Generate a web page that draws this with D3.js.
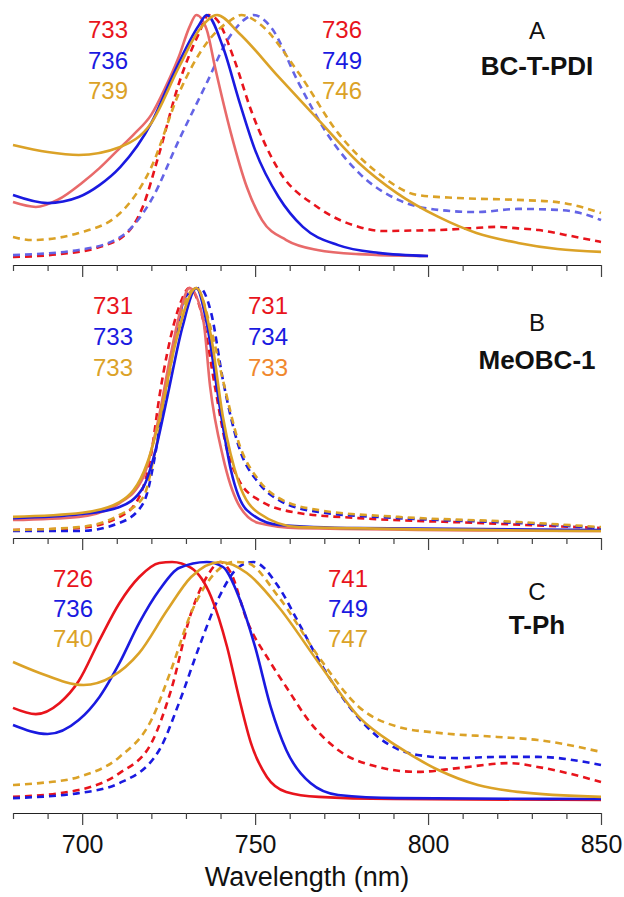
<!DOCTYPE html>
<html>
<head>
<meta charset="utf-8">
<script src="https://cdn.jsdelivr.net/npm/d3@7"></script>
<style>
  html, body { margin: 0; padding: 0; background: #fff; }
  svg { display: block; }
  text { font-family: "Liberation Sans", Arial, sans-serif; }
</style>
</head>
<body>
<div id="chart"></div>
<script>
// ---------------- DATA ----------------
const xTicks = [680, 690, 700, 710, 720, 730, 740, 750, 760, 770, 780, 790, 800, 810, 820, 830, 840, 850];
const xTickLabels = [700, 750, 800, 850];
const panelLetters = ["A", "B", "C"];
const panelNames = ["BC-T-PDI", "MeOBC-1", "T-Ph"];
const absPeaks = [[733, 736, 739], [731, 733, 733], [726, 736, 740]];   // solid (left column)
const emPeaks  = [[736, 749, 746], [731, 734, 733], [741, 749, 747]];   // dashed (right column)

// Panel A  (normalized intensity)
const aRedSolid = [[680,0.23],[686.6,0.21],[693,0.24],[700,0.31],[705,0.37],[710,0.44],[715,0.51],[720,0.59],[724,0.70],[728,0.83],[731,0.95],[733,1.0],[736,0.94],[738.4,0.786],[743,0.514],[747.6,0.292],[752,0.156],[759,0.074],[768,0.033],[780,0.016],[800,0.008]];
const aBlueSolid = [[680,0.259],[690,0.226],[699,0.251],[705,0.30],[711,0.374],[720,0.556],[726,0.745],[733.8,0.959],[736,1.0],[740.7,0.868],[745.3,0.65],[750,0.444],[756.8,0.251],[763.8,0.128],[774,0.053],[785.6,0.021],[800,0.008]];
const aGoldSolid = [[680,0.465],[690,0.436],[699,0.424],[711,0.457],[720,0.556],[728,0.786],[733.8,0.938],[739,1.0],[745.3,0.926],[756.8,0.745],[768.3,0.568],[780,0.391],[791,0.267],[803,0.169],[814,0.103],[826,0.062],[837.4,0.037],[850,0.025]];
const aRedDash = [[680,0.004],[693.5,0.016],[705,0.045],[713,0.103],[717.5,0.21],[722.3,0.432],[728,0.72],[733.8,0.926],[736.5,1.0],[739,0.98],[744,0.815],[748.8,0.609],[756.8,0.362],[768,0.21],[780,0.128],[787,0.111],[795,0.113],[803,0.115],[812,0.122],[820,0.128],[826,0.122],[832,0.115],[839.7,0.095],[850,0.066]];
const aBlueDash = [[680,0.012],[699,0.033],[711,0.086],[720,0.239],[728,0.486],[736,0.72],[742,0.897],[747.6,0.988],[749.5,1.0],[754.5,0.951],[762.6,0.72],[770.7,0.514],[780,0.35],[791.4,0.239],[803,0.198],[814,0.189],[826,0.202],[837.4,0.198],[844,0.185],[850,0.156]];
const aGoldDash = [[680,0.086],[685.4,0.074],[699,0.103],[711,0.185],[720,0.374],[728,0.679],[736,0.885],[743,0.979],[746,1.0],[751,0.967],[762.6,0.761],[774,0.514],[785.5,0.35],[797,0.259],[808.6,0.247],[826,0.239],[837.4,0.23],[850,0.185]];

// Panel B
const bRedSolid = [[680,0.045],[699,0.058],[710.8,0.115],[717.7,0.222],[722,0.457],[725.7,0.733],[729,0.938],[731,1.0],[735,0.868],[737,0.593],[740.7,0.305],[745,0.115],[751,0.033],[762.6,0.012],[850,0.0]];
const bBlueSolid = [[680,0.053],[700,0.07],[710.8,0.099],[717.7,0.181],[721,0.321],[724.6,0.551],[729,0.84],[733,1.0],[736,0.856],[739.6,0.527],[743,0.251],[747.6,0.086],[756.8,0.025],[780,0.012],[850,0.004]];
const bGoldSolid = [[680,0.058],[700,0.075],[710.8,0.119],[718.8,0.28],[722.3,0.457],[727,0.774],[733,1.0],[737.3,0.798],[740.7,0.469],[745.3,0.198],[751,0.074],[762.6,0.016],[850,0.0]];
const bRedDash = [[680,0.004],[699,0.012],[710.8,0.058],[716.5,0.14],[720,0.321],[722.3,0.551],[724.6,0.733],[728,0.922],[731,1.0],[735,0.868],[738.4,0.593],[741.9,0.333],[745.3,0.21],[751,0.128],[762.6,0.074],[780,0.053],[814.4,0.033],[850,0.012]];
const bBlueDash = [[680,0.0],[699,0.0],[710.8,0.033],[717.7,0.115],[721,0.305],[723.4,0.527],[727,0.798],[729.8,0.963],[734,1.0],[737.3,0.897],[740.7,0.621],[745.3,0.346],[751,0.198],[756.8,0.128],[768.4,0.078],[791.4,0.053],[826,0.033],[850,0.012]];
const bGoldDash = [[680,0.004],[699,0.016],[710.8,0.066],[717.7,0.14],[721,0.321],[724.6,0.593],[728,0.868],[733,1.0],[737.3,0.827],[740.7,0.621],[745.3,0.362],[751,0.21],[756.8,0.136],[768.4,0.086],[791.4,0.058],[826,0.037],[850,0.016]];

// Panel C
const cRedSolid = [[680,0.387],[686.6,0.361],[693.5,0.408],[699,0.50],[705,0.672],[710.8,0.828],[716.5,0.937],[722.3,0.996],[726,1.0],[731.5,0.975],[737.3,0.853],[741.9,0.643],[745.3,0.433],[748.8,0.239],[753.4,0.097],[759,0.034],[768.4,0.013],[790,0.004],[850,0.0]];
const cBlueSolid = [[680,0.315],[690,0.277],[699,0.336],[705,0.433],[710.8,0.576],[716.5,0.744],[722.3,0.882],[728,0.975],[736,1.0],[740.7,0.979],[745.3,0.853],[750,0.643],[754.5,0.391],[759,0.21],[766,0.071],[774,0.021],[791,0.008],[850,0.004]];
const cGoldSolid = [[680,0.58],[687.7,0.534],[700.4,0.483],[708.5,0.517],[716.5,0.618],[724.6,0.798],[731.5,0.937],[740,1.0],[747.6,0.954],[756.8,0.811],[768.4,0.576],[780,0.349],[791.4,0.223],[803,0.126],[814.4,0.063],[826,0.034],[850,0.013]];
const cRedDash = [[680,0.013],[699,0.042],[710.8,0.113],[720,0.239],[725.7,0.462],[731.5,0.786],[736,0.937],[740,1.0],[743,0.954],[747.6,0.756],[754.5,0.576],[759,0.475],[766,0.324],[774,0.21],[785.5,0.139],[797,0.118],[808.6,0.134],[823.6,0.155],[831.7,0.139],[850,0.076]];
const cBlueDash = [[680,0.008],[699,0.029],[710.8,0.071],[722.3,0.21],[728,0.408],[733.8,0.643],[739.6,0.853],[745.3,0.979],[749.5,1.0],[756.8,0.895],[762.6,0.744],[768.4,0.588],[776.4,0.408],[785.5,0.265],[797,0.189],[808.6,0.176],[820,0.181],[831.7,0.181],[850,0.147]];
const cGoldDash = [[680,0.063],[687.7,0.071],[699,0.097],[710.8,0.181],[720,0.336],[725.7,0.546],[731.5,0.786],[738.4,0.954],[744,1.0],[747.6,0.996],[756.8,0.853],[768.4,0.601],[780,0.391],[791.4,0.307],[803,0.282],[820,0.265],[831.7,0.252],[850,0.202]];

// ---------------- CHART ----------------
const W = 624, H = 897;
const svg = d3.select("#chart").append("svg").attr("width", W).attr("height", H);

const x = d3.scaleLinear().domain([680, 850]).range([13, 601]);

const RED = "#e8141c", BLUE = "#1a1ae0", GOLD = "#dba227";
const panels = [
  { axisY: 265, yr: [258, 15], labelY: [38, 69, 99], leftX: 108, rightX: 342, letterY: 39, nameY: 75,
    series: [
      { d: aRedSolid, c: "#e86a6a", dash: null },
      { d: aBlueSolid, c: BLUE, dash: null },
      { d: aGoldSolid, c: GOLD, dash: null },
      { d: aRedDash, c: RED, dash: "7,5" },
      { d: aBlueDash, c: "#6464e6", dash: "7,5" },
      { d: aGoldDash, c: GOLD, dash: "7,5" }],
    textColors: [[RED, BLUE, GOLD], [RED, BLUE, GOLD]] },
  { axisY: 538, yr: [531, 288], labelY: [314, 345, 376], leftX: 113, rightX: 268, letterY: 331, nameY: 369,
    series: [
      { d: bRedSolid, c: "#e86a6a", dash: null },
      { d: bBlueSolid, c: BLUE, dash: null },
      { d: bGoldSolid, c: GOLD, dash: null },
      { d: bRedDash, c: RED, dash: "7,5" },
      { d: bBlueDash, c: BLUE, dash: "7,5" },
      { d: bGoldDash, c: GOLD, dash: "7,5" }],
    textColors: [[RED, BLUE, GOLD], [RED, BLUE, "#f0882e"]] },
  { axisY: 813, yr: [800, 562], labelY: [587, 617, 647], leftX: 73, rightX: 348, letterY: 600, nameY: 634,
    series: [
      { d: cRedSolid, c: RED, dash: null },
      { d: cBlueSolid, c: BLUE, dash: null },
      { d: cGoldSolid, c: GOLD, dash: null },
      { d: cRedDash, c: RED, dash: "7,5" },
      { d: cBlueDash, c: BLUE, dash: "7,5" },
      { d: cGoldDash, c: GOLD, dash: "7,5" }],
    textColors: [[RED, BLUE, GOLD], [RED, BLUE, GOLD]] }
];

panels.forEach((p, i) => {
  const y = d3.scaleLinear().domain([0, 1]).range(p.yr);
  const line = d3.line().x(d => x(d[0])).y(d => y(d[1])).curve(d3.curveMonotoneX);
  const g = svg.append("g");

  // dashed first, then solid
  const order = [3, 4, 5, 0, 1, 2];
  order.forEach(k => {
    const s = p.series[k];
    g.append("path").datum(s.d)
      .attr("d", line)
      .attr("fill", "none")
      .attr("stroke", s.c)
      .attr("stroke-width", 2.6)
      .attr("stroke-dasharray", s.dash)
      .attr("stroke-linejoin", "round");
  });

  // x axis
  const axis = d3.axisBottom(x)
    .tickValues(xTicks)
    .tickSize(6)
    .tickSizeOuter(0)
    .tickFormat(d => (i === 2 && xTickLabels.includes(d)) ? d : "");
  const ag = svg.append("g").attr("transform", `translate(0,${p.axisY})`).call(axis);
  ag.select(".domain").attr("stroke", "#222").attr("stroke-width", 1.2);
  ag.selectAll(".tick line")
    .attr("stroke", "#444").attr("stroke-width", 1.2)
    .attr("y2", d => (d % 50 === 0) ? 12 : 6);
  ag.selectAll(".tick text")
    .attr("y", 0).attr("dy", 0)
    .attr("transform", "translate(0,40)")
    .attr("font-size", 25)
    .attr("fill", "#111")
    .attr("font-family", "'Liberation Sans', Arial, sans-serif");

  // peak labels
  absPeaks[i].forEach((v, j) => {
    svg.append("text").attr("x", p.leftX).attr("y", p.labelY[j])
      .attr("text-anchor", "middle").attr("font-size", 24)
      .attr("fill", p.textColors[0][j]).text(v);
  });
  emPeaks[i].forEach((v, j) => {
    svg.append("text").attr("x", p.rightX).attr("y", p.labelY[j])
      .attr("text-anchor", "middle").attr("font-size", 24)
      .attr("fill", p.textColors[1][j]).text(v);
  });

  svg.append("text").attr("x", 537).attr("y", p.letterY)
    .attr("text-anchor", "middle").attr("font-size", 24).attr("fill", "#111")
    .text(panelLetters[i]);
  svg.append("text").attr("x", 537).attr("y", p.nameY)
    .attr("text-anchor", "middle").attr("font-size", 26).attr("font-weight", "bold").attr("fill", "#111")
    .text(panelNames[i]);
});

svg.append("text").attr("x", 307).attr("y", 886)
  .attr("text-anchor", "middle").attr("font-size", 27).attr("fill", "#111")
  .text("Wavelength (nm)");
</script>
</body>
</html>
